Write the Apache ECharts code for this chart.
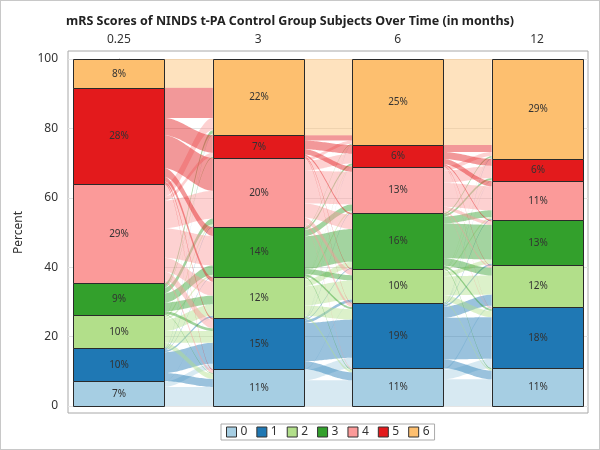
<!DOCTYPE html>
<html><head><meta charset="utf-8">
<script src="https://cdn.jsdelivr.net/npm/echarts@6/dist/echarts.min.js"></script>
<style>
html,body{margin:0;padding:0;background:#fff}
#wrap{position:relative;width:600px;height:450px}
#c{position:absolute;left:0;top:0;width:600px;height:450px}
#b{position:absolute;left:0;top:0;width:600px;height:450px;box-sizing:border-box;border:1px solid #c8c8c8;pointer-events:none}
</style></head><body>
<div id="wrap"><div id="c"></div><div id="b"></div></div>
<script>
// ---- data ----
const timeLabels = ['0.25', '3', '6', '12'];
const categories = ['0', '1', '2', '3', '4', '5', '6'];
const pct_025 = [7.2, 9.5, 9.6, 9.1, 28.5, 27.8, 8.3];
const pct_3   = [10.6, 14.8, 11.7, 14.4, 20.0, 6.5, 22.0];
const pct_6   = [10.9, 18.8, 9.8, 16.1, 13.4, 6.2, 24.8];
const pct_12  = [10.9, 17.5, 12.1, 13.1, 11.2, 6.4, 28.8];
// transitions (rows: score at earlier time, cols: score at later time), percent of subjects
const flow_025_3 = [
  [5.5, 1.6, 0.1, 0, 0, 0, 0],
  [2.3, 6.0, 0.5, 0.2, 0.3, 0, 0.2],
  [1.5, 3.4, 3.3, 0.5, 0.6, 0, 0.3],
  [0.2, 0.8, 2.5, 2.7, 1.6, 0.3, 1.0],
  [0.8, 2.5, 4.0, 8.5, 8.0, 1.2, 3.5],
  [0.3, 0.5, 1.3, 2.5, 9.5, 5.0, 8.7],
  [0, 0, 0, 0, 0, 0, 8.3]
];
const flow_3_6 = [
  [7.4, 3.0, 0.2, 0, 0, 0, 0],
  [2.3, 11.0, 0.8, 0.3, 0.2, 0.1, 0.1],
  [0.6, 3.0, 5.5, 1.8, 0.5, 0.2, 0.1],
  [0.3, 0.6, 1.5, 9.4, 1.8, 0.6, 0.2],
  [0.3, 1.0, 1.5, 4.1, 9.4, 2.8, 0.9],
  [0, 0.2, 0.3, 0.5, 1.5, 2.5, 1.5],
  [0, 0, 0, 0, 0, 0, 22.0]
];
const flow_6_12 = [
  [7.7, 2.7, 0.5, 0, 0, 0, 0],
  [2.5, 12.0, 3.2, 0.5, 0.3, 0.1, 0.2],
  [0.4, 1.8, 5.5, 1.2, 0.5, 0.2, 0.2],
  [0.3, 0.6, 2.2, 10.0, 2.0, 0.6, 0.4],
  [0, 0.3, 0.5, 1.0, 6.9, 3.5, 1.2],
  [0, 0.1, 0.2, 0.4, 1.5, 2.0, 2.0],
  [0, 0, 0, 0, 0, 0, 24.8]
];

// ---- styles ----
const colors = ['#a6cee3', '#1f78b4', '#b2df8a', '#33a02c', '#fb9a99', '#e31a1c', '#fdbf6f'];
const HALF = 0.326;
const FONT = 'Noto Sans';

// ---- build ----
const pctByTime = [pct_025, pct_3, pct_6, pct_12];
const flows = [flow_025_3, flow_3_6, flow_6_12];
function cum(arr) { const out = []; let s = 0; arr.forEach(v => { out.push(s); s += v; }); return out; }

const barSeries = categories.map((cat, i) => ({
  name: cat,
  type: 'custom',
  z: 3,
  itemStyle: { color: colors[i] },
  encode: { x: 0, y: [1, 2] },
  data: pctByTime.map((p, t) => { const b = cum(p)[i]; return [t, b, b + p[i], p[i]]; }),
  renderItem: function (params, api) {
    const t = api.value(0), lo = api.value(1), hi = api.value(2), v = api.value(3);
    const p0 = api.coord([t - HALF, hi]), p1 = api.coord([t + HALF, lo]);
    const x0 = Math.round(p0[0]) + 0.5, y0 = Math.round(p0[1]) + 0.5;
    const x1 = Math.round(p1[0]) + 0.5, y1 = Math.round(p1[1]) + 0.5;
    return {
      type: 'rect',
      shape: { x: x0, y: y0, width: x1 - x0, height: y1 - y0 },
      style: { fill: colors[i], stroke: '#2a2a2a', lineWidth: 1 },
      textContent: { style: { text: Math.round(v) + '%', fill: '#333', fontSize: 10, fontFamily: FONT } },
      textConfig: { position: 'inside' }
    };
  }
}));

const flowData = [];
flows.forEach((m, g) => {
  const srcStart = cum(pctByTime[g]);
  const tgtStart = cum(pctByTime[g + 1]);
  const tgtOff = tgtStart.slice();
  const srcOff = srcStart.slice();
  for (let s = 0; s < m.length; s++) {
    for (let j = 0; j < m[s].length; j++) {
      const v = m[s][j];
      if (v > 0) flowData.push([g, s, j, v, srcOff[s], tgtOff[j]]);
      srcOff[s] += v;
      tgtOff[j] += v;
    }
  }
});

const flowSeries = {
  type: 'custom',
  z: 1,
  silent: true,
  encode: { x: 0, y: [4, 5] },
  data: flowData,
  renderItem: function (params, api) {
    const g = api.value(0), s = api.value(1), v = api.value(3), sb = api.value(4), tb = api.value(5);
    const x0 = g + HALF, x1 = g + 1 - HALF;
    const N = 30, pts = [];
    for (let k = 0; k <= N; k++) { const u = k / N, e = u * u * (3 - 2 * u); pts.push(api.coord([x0 + (x1 - x0) * u, sb + v + (tb - sb) * e])); }
    for (let k = N; k >= 0; k--) { const u = k / N, e = u * u * (3 - 2 * u); pts.push(api.coord([x0 + (x1 - x0) * u, sb + (tb - sb) * e])); }
    return { type: 'polygon', shape: { points: pts }, style: { fill: colors[s], opacity: 0.45 } };
  }
};

const chart = echarts.init(document.getElementById('c'), null, { renderer: 'canvas' });
chart.setOption({
  animation: false,
  textStyle: { fontFamily: FONT },
  title: {
    text: 'mRS Scores of NINDS t-PA Control Group Subjects Over Time (in months)',
    left: 61, top: 10,
    textStyle: { fontSize: 12.5, fontWeight: 'bold', color: '#222', fontFamily: FONT }
  },
  legend: {
    data: categories,
    left: 221, top: 424,
    padding: [2, 5],
    itemWidth: 10, itemHeight: 10, itemGap: 9,
    icon: 'rect',
    itemStyle: { borderColor: '#333', borderWidth: 1 },
    borderColor: '#aaa', borderWidth: 1,
    textStyle: { fontSize: 12, color: '#333', fontFamily: FONT, padding: [0, 0, 0, -1] }
  },
  grid: [
    { left: 68, right: 12, top: 59, bottom: 44 },
    { left: 68, right: 12, top: 51, bottom: 37, show: true, borderColor: '#a8a8a8', borderWidth: 1, z: 0 }
  ],
  xAxis: [
    {
      type: 'value', gridIndex: 0, position: 'top', min: -0.365, max: 3.365,
      axisLine: { show: false }, axisTick: { show: false }, splitLine: { show: false },
      axisLabel: { customValues: [0, 1, 2, 3], formatter: v => timeLabels[Math.round(v)], fontSize: 12, color: '#333', margin: 13 }
    },
    { type: 'value', gridIndex: 1, show: false }
  ],
  yAxis: [
    {
      type: 'value', gridIndex: 0, min: 0, max: 100, interval: 20,
      name: 'Percent', nameLocation: 'middle', nameGap: 43, nameRotate: 90,
      nameTextStyle: { fontSize: 12, color: '#333' },
      axisLine: { show: true, lineStyle: { color: '#a8a8a8' } },
      axisTick: { show: true, length: 5, lineStyle: { color: '#888' } },
      axisLabel: { fontSize: 12, color: '#333', margin: 10 },
      splitLine: { show: true, lineStyle: { color: '#e4e4e4' } }
    },
    { type: 'value', gridIndex: 1, show: false }
  ],
  series: [flowSeries].concat(barSeries)
});
</script>
</body></html>
